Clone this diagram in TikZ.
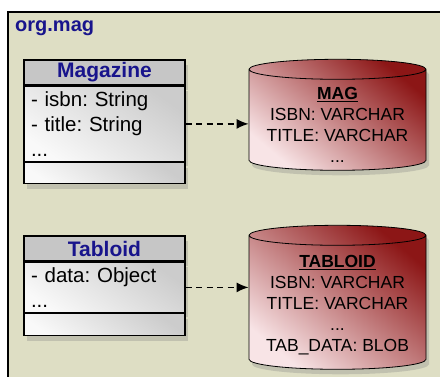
\documentclass[tikz,border=0pt]{standalone}
\usepackage{fontspec}
\setmainfont{Liberation Sans}
\usepackage{tikz}
\usetikzlibrary{positioning}
\usetikzlibrary{shapes.geometric}
\usetikzlibrary{shadows}
\usetikzlibrary{arrows.meta}

\definecolor{pkgfill}{RGB}{222,222,196}
\definecolor{umlblue}{RGB}{24,20,140}
\definecolor{dbdark}{RGB}{140,22,22}
\definecolor{dblight}{RGB}{248,228,230}
\frenchspacing

\tikzset{
	classname/.style={draw, line width=1.4pt, fill=gray!45, minimum width=161pt, minimum height=25pt, inner sep=0pt, font=\fontsize{21}{24}\selectfont\bfseries, text=umlblue, drop shadow={opacity=0.3, shadow xshift=3pt, shadow yshift=-5pt}},
	classpart/.style={draw, line width=1.4pt, top color=gray!40, bottom color=gray!5, shading angle=-35, minimum width=161pt, inner sep=0pt, text width=147pt, align=left, font=\fontsize{20.5}{25}\selectfont, drop shadow={opacity=0.3, shadow xshift=3pt, shadow yshift=-5pt}},
	db/.style={cylinder, shape border rotate=90, aspect=0.113, draw, thick, top color=dbdark, bottom color=dblight, shading angle=-40, minimum width=177pt, minimum height=111pt, inner sep=0pt, drop shadow={opacity=0.3, shadow xshift=3pt, shadow yshift=-5pt}},
	dbcols/.style={inner sep=0pt, align=center, font=\fontsize{17.5}{21}\selectfont},
	dep/.style={line width=1.5pt, dash pattern=on 6pt off 4.5pt, -{Latex[length=12pt,width=10pt]}}
}

\begin{document}
\begin{tikzpicture}[x=1pt, y=1pt]
				\useasboundingbox (0,0) rectangle (440,377);
				\draw[line width=1.2pt, fill=pkgfill] (8,365) rectangle (460,-20);
				\node[anchor=north west, inner sep=0pt, text=umlblue, font=\fontsize{20}{24}\selectfont\bfseries] (pkg) at (15,356) {org.mag};
				
				\node[classname] (magname) at (104.5,304.5) {Magazine};
				\node[classpart, minimum height=75pt, below=0pt of magname] (magattr) {- isbn: String\\- title: String\\...};
				\node[classpart, minimum height=21pt, below=0pt of magattr] (magops) {};
				
				\node[classname] (tabname) at (104.5,128.5) {Tabloid};
				\node[classpart, minimum height=50pt, below=0pt of tabname] (tabattr) {- data: Object\\...};
				\node[classpart, minimum height=22pt, below=0pt of tabattr] (tabops) {};
				
				\node[db] (magdb) at (337.5,257) {\hspace*{177pt}};
				\node[dbcols] (magcols) at ([yshift=-5pt]magdb.center) {\textbf{\underline{MAG}}\\ISBN: VARCHAR\\TITLE: VARCHAR\\...};
				\node[db, minimum height=144pt] (tabdb) at (337.5,74.5) {\hspace*{177pt}};
				\node[dbcols] (tabcols) at ([yshift=-3pt]tabdb.center) {\textbf{\underline{TABLOID}}\\ISBN: VARCHAR\\TITLE: VARCHAR\\...\\TAB\_DATA: BLOB};
				
				\draw[dep] (magattr.east) -- (magattr.east -| magdb.west);
				\draw[dep] (tabattr.east) -- (tabattr.east -| tabdb.west);
			\end{tikzpicture}
\end{document}
